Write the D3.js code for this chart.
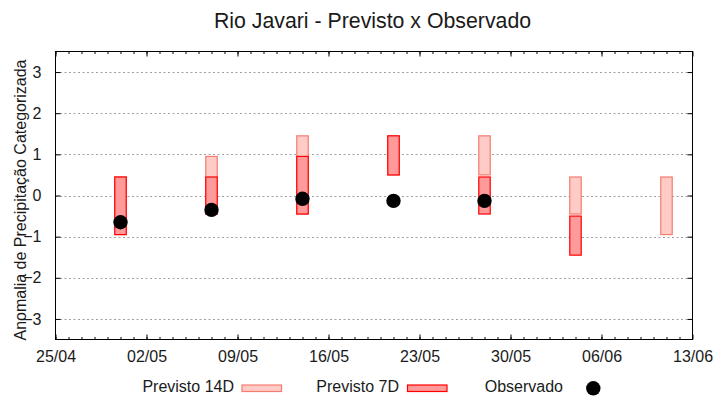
<!DOCTYPE html>
<html>
<head>
<meta charset="utf-8">
<script src="https://cdn.jsdelivr.net/npm/d3@7"></script>
<style>
  body { margin: 0; background: #fff; }
  text { font-family: "Liberation Sans", Arial, sans-serif; fill: #1a1a1a; }
</style>
</head>
<body>
<svg id="chart" width="720" height="400"></svg>
<script>
// ---- data ----
const year = 2021;
const tickLabels = ["25/04", "02/05", "09/05", "16/05", "23/05", "30/05", "06/06", "13/06"];
const dates = ["30/04", "07/05", "14/05", "21/05", "28/05", "04/06", "11/06"];
const prev14Low  = [-0.95, -0.45, -0.45, 0.5, 0.5, -0.45, -0.95];
const prev14High = [0.45, 0.95, 1.45, 1.45, 1.45, 0.45, 0.45];
const prev7Low   = [-0.95, -0.45, -0.45, 0.5, -0.45, -1.45, null];
const prev7High  = [0.45, 0.45, 0.95, 1.45, 0.45, -0.5, null];
const observado  = [-0.65, -0.35, -0.08, -0.13, -0.13, null, null];
const yTicks = [-3, -2, -1, 0, 1, 2, 3];

const parse = s => d3.timeParse("%d/%m/%Y")(s + "/" + year);
const fmt = d3.timeFormat("%d/%m");

const svg = d3.select("#chart");
const margin = { left: 55.5, right: 720 - 692.5, top: 51.5, bottom: 400 - 339.5 };
const W = 720, H = 400;

const x = d3.scaleTime()
  .domain([parse(tickLabels[0]), parse(tickLabels[tickLabels.length - 1])])
  .range([margin.left, W - margin.right]);
const y = d3.scaleLinear().domain([-3.5, 3.5]).range([H - margin.bottom, margin.top]);

const halfDay = 0.44 * 24 * 3600 * 1000;

// gridlines
svg.append("g").selectAll("line").data(yTicks).join("line")
  .attr("x1", margin.left).attr("x2", W - margin.right)
  .attr("y1", d => Math.round(y(d)) + 0.5).attr("y2", d => Math.round(y(d)) + 0.5)
  .attr("stroke", "#a0a0a0").attr("stroke-width", 1).attr("stroke-dasharray", "2,2.5");

// bars
const rows = dates.map((d, i) => ({
  date: parse(d), l14: prev14Low[i], h14: prev14High[i],
  l7: prev7Low[i], h7: prev7High[i], obs: observado[i]
}));

svg.append("g").selectAll("rect").data(rows.filter(r => r.l14 != null)).join("rect")
  .attr("x", r => x(new Date(+r.date - halfDay)))
  .attr("width", r => x(new Date(+r.date + halfDay)) - x(new Date(+r.date - halfDay)))
  .attr("y", r => y(r.h14))
  .attr("height", r => y(r.l14) - y(r.h14))
  .attr("fill", "#ffcbc6").attr("stroke", "#f47c70").attr("stroke-width", 1.2);

svg.append("g").selectAll("rect").data(rows.filter(r => r.l7 != null)).join("rect")
  .attr("x", r => x(new Date(+r.date - halfDay)))
  .attr("width", r => x(new Date(+r.date + halfDay)) - x(new Date(+r.date - halfDay)))
  .attr("y", r => y(r.h7))
  .attr("height", r => y(r.l7) - y(r.h7))
  .attr("fill", "#ff9a9a").attr("stroke", "#ff0000").attr("stroke-width", 1.2);

svg.append("g").selectAll("circle").data(rows.filter(r => r.obs != null)).join("circle")
  .attr("cx", r => x(r.date)).attr("cy", r => y(r.obs)).attr("r", 7.2)
  .attr("fill", "#000");

// axes
const majorDates = tickLabels.map(parse);
const minorDates = d3.timeDay.range(majorDates[0], majorDates[majorDates.length - 1]);

const axB = d3.axisBottom(x).tickValues(majorDates).tickFormat(fmt).tickSizeInner(-5).tickSizeOuter(0).tickPadding(10);
const gB = svg.append("g").attr("transform", `translate(0,${H - margin.bottom})`).call(axB);
gB.select(".domain").remove();
gB.selectAll("text").attr("font-size", 16).attr("dy", "0.75em").attr("fill", "#1a1a1a")
  .attr("font-family", "Liberation Sans, Arial, sans-serif");

const minB = d3.axisBottom(x).tickValues(minorDates).tickFormat("").tickSizeInner(-2.5).tickSizeOuter(0);
const gmB = svg.append("g").attr("transform", `translate(0,${H - margin.bottom})`).call(minB);
gmB.select(".domain").remove();

const axT = d3.axisTop(x).tickValues(majorDates).tickFormat("").tickSizeInner(-5).tickSizeOuter(0);
const gT = svg.append("g").attr("transform", `translate(0,${margin.top})`).call(axT);
gT.select(".domain").remove();
const minT = d3.axisTop(x).tickValues(minorDates).tickFormat("").tickSizeInner(-2.5).tickSizeOuter(0);
const gmT = svg.append("g").attr("transform", `translate(0,${margin.top})`).call(minT);
gmT.select(".domain").remove();

const axL = d3.axisLeft(y).tickValues(yTicks).tickFormat(d3.format("d")).tickSizeInner(-5).tickSizeOuter(0).tickPadding(14);
const gL = svg.append("g").attr("transform", `translate(${margin.left},0)`).call(axL);
gL.select(".domain").remove();
gL.selectAll("text").attr("font-size", 16).attr("fill", "#1a1a1a")
  .attr("font-family", "Liberation Sans, Arial, sans-serif");

const axR = d3.axisRight(y).tickValues(yTicks).tickFormat("").tickSizeInner(-5).tickSizeOuter(0);
const gR = svg.append("g").attr("transform", `translate(${W - margin.right},0)`).call(axR);
gR.select(".domain").remove();

// frame
svg.append("rect")
  .attr("x", margin.left).attr("y", margin.top)
  .attr("width", W - margin.left - margin.right).attr("height", H - margin.top - margin.bottom)
  .attr("fill", "none").attr("stroke", "#000").attr("stroke-width", 1);

// title
svg.append("text").attr("x", 372.5).attr("y", 27.5).attr("text-anchor", "middle")
  .attr("font-size", 21.3).text("Rio Javari - Previsto x Observado");

// y label
svg.append("text").attr("transform", "translate(26,200) rotate(-90)")
  .attr("text-anchor", "middle").attr("font-size", 16)
  .text("Anomalia de Precipitação Categorizada");

// legend
const legend = svg.append("g");
legend.append("text").attr("x", 234).attr("y", 392).attr("text-anchor", "end").attr("font-size", 16).text("Previsto 14D");
legend.append("rect").attr("x", 242).attr("y", 385).attr("width", 39.5).attr("height", 6.5)
  .attr("fill", "#ffcbc6").attr("stroke", "#f47c70").attr("stroke-width", 1.2);
legend.append("text").attr("x", 399).attr("y", 392).attr("text-anchor", "end").attr("font-size", 16).text("Previsto 7D");
legend.append("rect").attr("x", 407.5).attr("y", 385).attr("width", 39.5).attr("height", 6.5)
  .attr("fill", "#ff9a9a").attr("stroke", "#ff0000").attr("stroke-width", 1.2);
legend.append("text").attr("x", 563).attr("y", 392).attr("text-anchor", "end").attr("font-size", 16).text("Observado");
legend.append("circle").attr("cx", 593.3).attr("cy", 388.3).attr("r", 7.2).attr("fill", "#000");
</script>
</body>
</html>
